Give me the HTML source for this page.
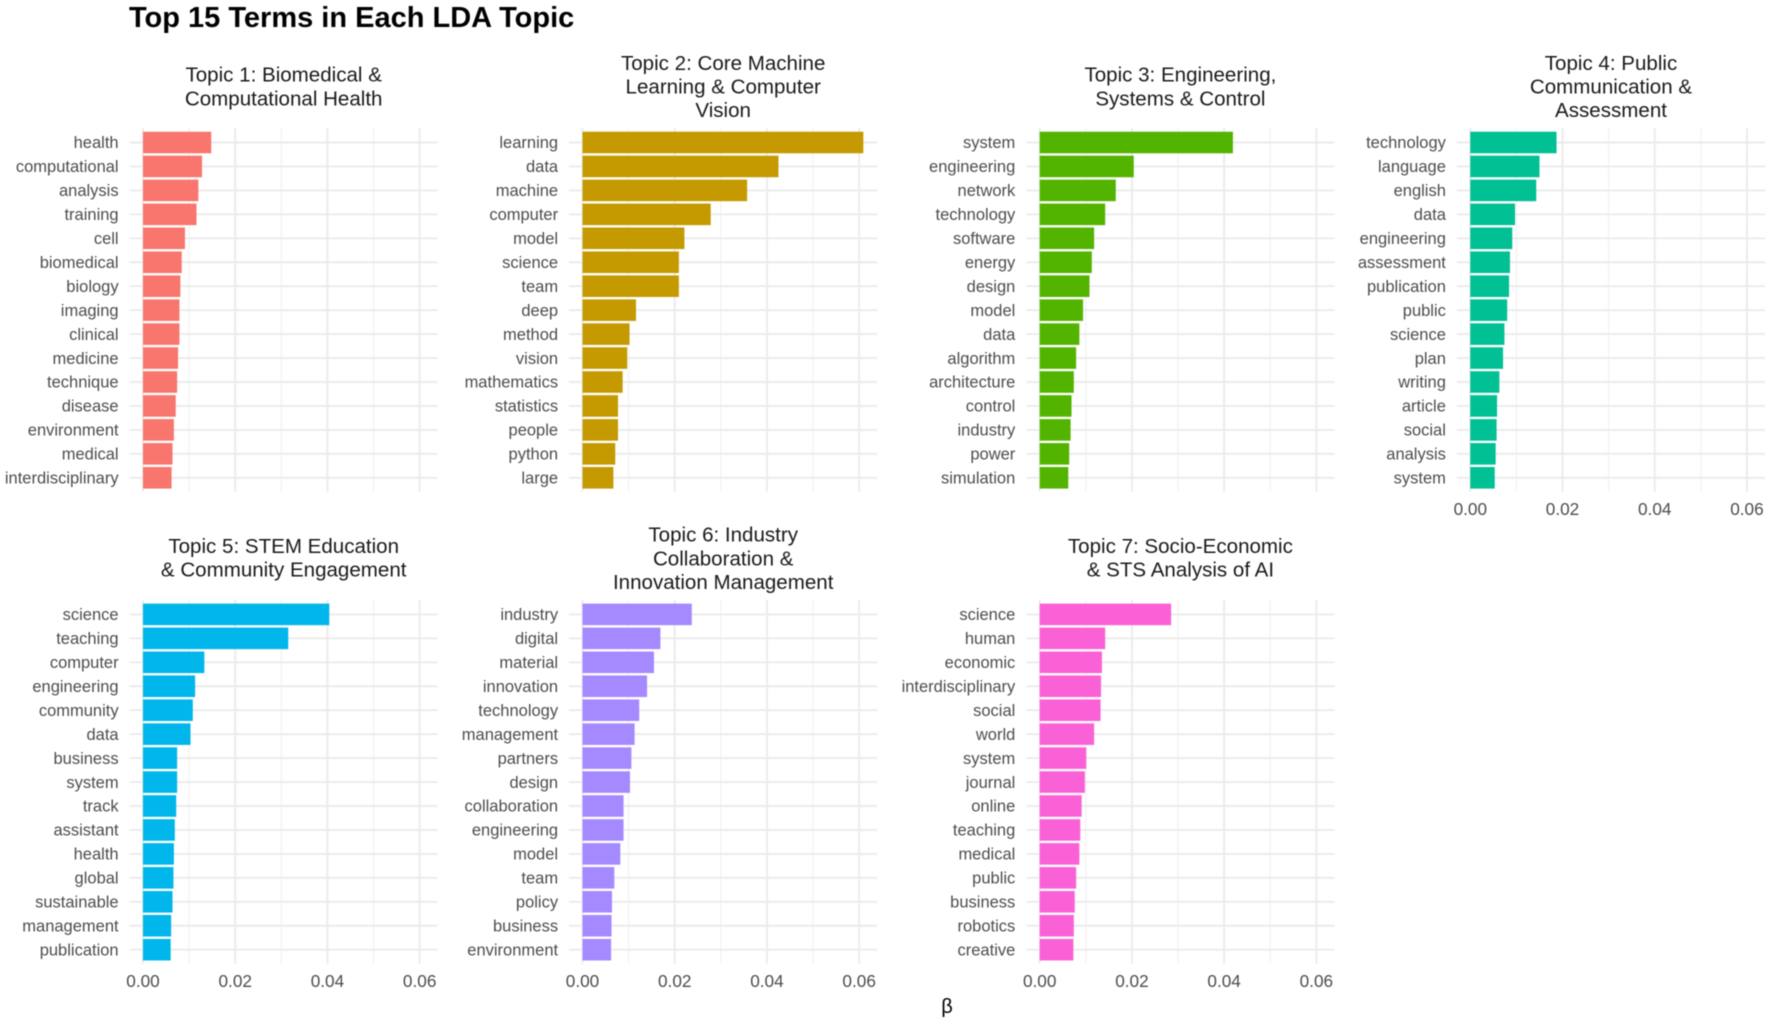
<!DOCTYPE html>
<html lang="en">
<head>
<meta charset="utf-8">
<title>Top 15 Terms in Each LDA Topic</title>
<style>
  html, body { margin: 0; padding: 0; background: #ffffff; }
  body { width: 1772px; height: 1024px; overflow: hidden; }
  #chart { display: block; filter: blur(0.4px); font-family: "Liberation Sans", Arial, sans-serif; }
</style>
</head>
<body>
<svg id="chart" xmlns="http://www.w3.org/2000/svg" width="1772" height="1024" viewBox="0 0 1772 1024">
  <rect x="0" y="0" width="1772" height="1024" fill="#ffffff"></rect>
  <text x="129" y="27" font-size="29" font-weight="700" fill="#000000">Top 15 Terms in Each LDA Topic</text>
  <text x="947" y="1013" font-size="20" text-anchor="middle" fill="#000000">β</text>
</svg>
<script>
const xTickValues = [0, 0.02, 0.04, 0.06];
const xTickLabels = ["0.00", "0.02", "0.04", "0.06"];
const xMinorValues = [0.01, 0.03, 0.05];

const topic1Title = ["Topic 1: Biomedical &", "Computational Health"];
const topic1Terms = ["health","computational","analysis","training","cell","biomedical","biology","imaging","clinical","medicine","technique","disease","environment","medical","interdisciplinary"];
const topic1Beta = [0.0148,0.0128,0.0120,0.0116,0.0091,0.0084,0.0081,0.0079,0.0079,0.0076,0.0074,0.0071,0.0067,0.0064,0.0062];

const topic2Title = ["Topic 2: Core Machine", "Learning & Computer", "Vision"];
const topic2Terms = ["learning","data","machine","computer","model","science","team","deep","method","vision","mathematics","statistics","people","python","large"];
const topic2Beta = [0.0609,0.0425,0.0357,0.0278,0.0221,0.0209,0.0209,0.0116,0.0102,0.0097,0.0087,0.0077,0.0077,0.0071,0.0067];

const topic3Title = ["Topic 3: Engineering,", "Systems & Control"];
const topic3Terms = ["system","engineering","network","technology","software","energy","design","model","data","algorithm","architecture","control","industry","power","simulation"];
const topic3Beta = [0.0419,0.0204,0.0165,0.0142,0.0118,0.0113,0.0108,0.0094,0.0086,0.0079,0.0074,0.0069,0.0067,0.0064,0.0062];

const topic4Title = ["Topic 4: Public", "Communication &", "Assessment"];
const topic4Terms = ["technology","language","english","data","engineering","assessment","publication","public","science","plan","writing","article","social","analysis","system"];
const topic4Beta = [0.0187,0.0150,0.0143,0.0097,0.0091,0.0086,0.0084,0.0080,0.0074,0.0071,0.0063,0.0058,0.0057,0.0055,0.0053];

const topic5Title = ["Topic 5: STEM Education", "& Community Engagement"];
const topic5Terms = ["science","teaching","computer","engineering","community","data","business","system","track","assistant","health","global","sustainable","management","publication"];
const topic5Beta = [0.0404,0.0315,0.0133,0.0113,0.0108,0.0103,0.0074,0.0074,0.0072,0.0069,0.0067,0.0066,0.0064,0.0061,0.0060];

const topic6Title = ["Topic 6: Industry", "Collaboration &", "Innovation Management"];
const topic6Terms = ["industry","digital","material","innovation","technology","management","partners","design","collaboration","engineering","model","team","policy","business","environment"];
const topic6Beta = [0.0237,0.0169,0.0155,0.0140,0.0123,0.0113,0.0106,0.0103,0.0089,0.0089,0.0082,0.0069,0.0064,0.0063,0.0062];

const topic7Title = ["Topic 7: Socio-Economic", "& STS Analysis of AI"];
const topic7Terms = ["science","human","economic","interdisciplinary","social","world","system","journal","online","teaching","medical","public","business","robotics","creative"];
const topic7Beta = [0.0285,0.0142,0.0135,0.0133,0.0132,0.0118,0.0101,0.0098,0.0091,0.0088,0.0086,0.0079,0.0076,0.0074,0.0073];

const topicColors = ["#F8766D","#C49A00","#53B400","#00C094","#00B6EB","#A58AFF","#FB61D7"];

const svg = document.getElementById('chart');
const NS = 'http://www.w3.org/2000/svg';

// layout
const panelZeroX = [143, 582.5, 1039.7, 1470.3];
const rowTop = [128, 600];
const rowFirstBand = [142.5, 614.4];
const bandStep = 23.95;
const pxPerUnit = 4611;
const panelWidth = 308;
const zeroInset = 13.3;
const panelHeight = 363.7;
const titleLineStep = 23.7;
const titleLastLineTwo = [98.3, 569.5];
const titleLastLineThree = [110.2, 582];

function make(tag, attrs, parent) {
  const el = document.createElementNS(NS, tag);
  for (const k in attrs) el.setAttribute(k, attrs[k]);
  parent.appendChild(el);
  return el;
}

function xScale(zeroX, v) { return zeroX + v * pxPerUnit; }
function yBand(firstBand, i) { return firstBand + i * bandStep; }

function drawPanel(idx, col, row, titleLines, terms, betas, showXAxis) {
  const zeroX = panelZeroX[col];
  const top = rowTop[row];
  const first = rowFirstBand[row];
  const left = zeroX - zeroInset;
  const right = left + panelWidth;
  const bottom = top + panelHeight;
  const color = topicColors[idx];

  const g = make('g', {}, svg);
  
  

  // title
  const lastLineY = titleLines.length === 3 ? titleLastLineThree[row] : titleLastLineTwo[row];
  titleLines.forEach((line, i) => {
    const yCenter = lastLineY - (titleLines.length - 1 - i) * titleLineStep;
    const t = make('text', { x: (left + right) / 2, y: yCenter + 7, 'font-size': 20.55, 'text-anchor': 'middle', fill: '#1a1a1a' }, g);
    
    
    t.textContent = line;
  });

  // minor vertical grid
  xMinorValues.forEach(v => {
    const l = make('line', { x1: xScale(zeroX, v), x2: xScale(zeroX, v), y1: top, y2: bottom, stroke: '#efefef', 'stroke-width': 1 }, g);
    
    
  });
  // major vertical grid
  xTickValues.forEach(v => {
    const l = make('line', { x1: xScale(zeroX, v), x2: xScale(zeroX, v), y1: top, y2: bottom, stroke: '#ebebeb', 'stroke-width': 1.9 }, g);
    
    
  });
  // horizontal grid
  terms.forEach((term, i) => {
    const l = make('line', { x1: left, x2: right, y1: yBand(first, i), y2: yBand(first, i), stroke: '#ebebeb', 'stroke-width': 1.9 }, g);
    
    
  });
  // bars + labels
  terms.forEach((term, i) => {
    const y = yBand(first, i);
    const bar = make('rect', { x: xScale(zeroX, 0), y: y - bandStep * 0.45, width: xScale(zeroX, betas[i]) - xScale(zeroX, 0), height: bandStep * 0.9, fill: color }, g);
    
    
    const t = make('text', { x: zeroX - 24.4, y: y + 5.7, 'font-size': 16.5, 'text-anchor': 'end', fill: '#4d4d4d' }, g);
    
    
    t.textContent = term;
  });
  // x tick labels
  if (showXAxis) {
    xTickValues.forEach((v, i) => {
      const t = make('text', { x: xScale(zeroX, v), y: bottom + 23.3, 'font-size': 17.2, 'text-anchor': 'middle', fill: '#4d4d4d' }, g);
      
      
      t.textContent = xTickLabels[i];
    });
  }
}

drawPanel(0, 0, 0, topic1Title, topic1Terms, topic1Beta, false);
drawPanel(1, 1, 0, topic2Title, topic2Terms, topic2Beta, false);
drawPanel(2, 2, 0, topic3Title, topic3Terms, topic3Beta, false);
drawPanel(3, 3, 0, topic4Title, topic4Terms, topic4Beta, true);
drawPanel(4, 0, 1, topic5Title, topic5Terms, topic5Beta, true);
drawPanel(5, 1, 1, topic6Title, topic6Terms, topic6Beta, true);
drawPanel(6, 2, 1, topic7Title, topic7Terms, topic7Beta, true);
</script>
</body>
</html>
